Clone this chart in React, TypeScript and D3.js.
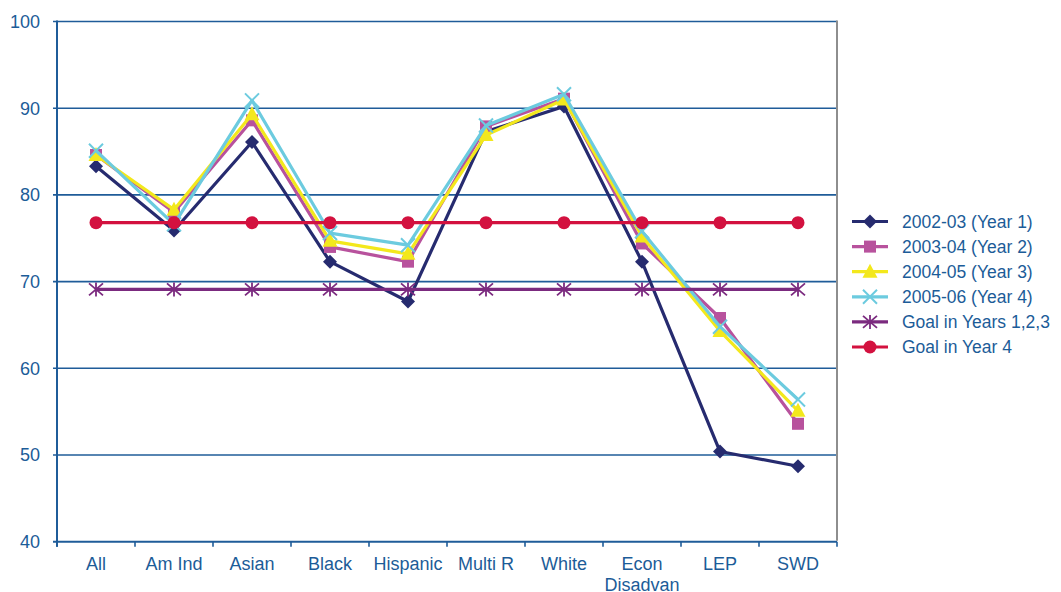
import React, { useEffect, useRef } from "react";
import * as d3 from "d3";

// Student groups along the x axis
const categories: string[][] = [
  ["All"], ["Am Ind"], ["Asian"], ["Black"], ["Hispanic"], ["Multi R"],
  ["White"], ["Econ", "Disadvan"], ["LEP"], ["SWD"],
];

// Percent proficient by year
const year1 = [83.3, 75.9, 86.1, 72.3, 67.7, 87.3, 90.2, 72.3, 50.4, 48.7];
const year2 = [84.6, 78.0, 88.6, 74.0, 72.3, 87.9, 91.1, 74.4, 65.8, 53.6];
const year3 = [84.6, 78.3, 89.3, 74.7, 73.2, 86.9, 91.0, 75.2, 64.3, 55.1];
const year4 = [85.1, 76.6, 90.9, 75.6, 74.2, 88.0, 91.6, 75.8, 64.8, 56.4];
const goalYears123 = [69.1, 69.1, 69.1, 69.1, 69.1, 69.1, 69.1, 69.1, 69.1, 69.1];
const goalYear4 = [76.8, 76.8, 76.8, 76.8, 76.8, 76.8, 76.8, 76.8, 76.8, 76.8];

const yTicks = [40, 50, 60, 70, 80, 90, 100];

type Marker = "diamond" | "square" | "triangle" | "x" | "asterisk" | "circle";
interface Series { name: string; values: number[]; color: string; marker: Marker; }

const series: Series[] = [
  { name: "2002-03 (Year 1)", values: year1, color: "#262b6f", marker: "diamond" },
  { name: "2003-04 (Year 2)", values: year2, color: "#b8529d", marker: "square" },
  { name: "2004-05 (Year 3)", values: year3, color: "#f3e81c", marker: "triangle" },
  { name: "2005-06 (Year 4)", values: year4, color: "#6ccbdf", marker: "x" },
  { name: "Goal in Years 1,2,3", values: goalYears123, color: "#7b2a7f", marker: "asterisk" },
  { name: "Goal in Year 4", values: goalYear4, color: "#d3113f", marker: "circle" },
];

const W = 1061, H = 592;
const M = { left: 57, right: 837, top: 21.5, bottom: 541.7 };
const AXIS = "#1f5c99";
const TEXT = "#1c5c98";
const FONT = "'Liberation Sans', Arial, sans-serif";

function drawMarker(g: d3.Selection<SVGGElement, unknown, null, undefined>, m: Marker, x: number, y: number, color: string) {
  switch (m) {
    case "diamond":
      g.append("path").attr("d", `M${x},${y - 7}L${x + 7},${y}L${x},${y + 7}L${x - 7},${y}Z`).attr("fill", color);
      break;
    case "square":
      g.append("rect").attr("x", x - 6).attr("y", y - 6).attr("width", 12).attr("height", 12).attr("fill", color);
      break;
    case "triangle":
      g.append("path").attr("d", `M${x},${y - 8}L${x + 7.5},${y + 6}L${x - 7.5},${y + 6}Z`).attr("fill", color);
      break;
    case "x":
      g.append("path").attr("d", `M${x - 7},${y - 7}L${x + 7},${y + 7}M${x + 7},${y - 7}L${x - 7},${y + 7}`)
        .attr("stroke", color).attr("stroke-width", 2).attr("fill", "none");
      break;
    case "asterisk":
      g.append("path").attr("d", `M${x - 7},${y - 6}L${x + 7},${y + 6}M${x + 7},${y - 6}L${x - 7},${y + 6}M${x},${y - 7}L${x},${y + 7}`)
        .attr("stroke", color).attr("stroke-width", 1.8).attr("fill", "none");
      break;
    case "circle":
      g.append("circle").attr("cx", x).attr("cy", y).attr("r", 6.5).attr("fill", color);
      break;
  }
}

export default function App() {
  const ref = useRef<SVGSVGElement>(null);

  useEffect(() => {
    const svg = d3.select(ref.current!);
    svg.selectAll("*").remove();

    const x = d3.scaleBand<number>().domain(d3.range(categories.length)).range([M.left, M.right]);
    const y = d3.scaleLinear().domain([40, 100]).range([M.bottom, M.top]);
    const cx = (i: number) => (x(i) as number) + x.bandwidth() / 2;

    // Horizontal gridlines and y labels
    const grid = svg.append("g");
    yTicks.forEach((t) => {
      grid.append("line").attr("x1", M.left - 4).attr("x2", M.right)
        .attr("y1", y(t)).attr("y2", y(t)).attr("stroke", AXIS).attr("stroke-width", t === 40 ? 2 : 1.6);
      grid.append("text").attr("x", 40).attr("y", y(t)).attr("dy", "0.35em")
        .attr("text-anchor", "end").attr("font-family", FONT).attr("font-size", 18).attr("fill", TEXT).text(String(t));
    });

    // Right frame edge
    svg.append("line").attr("x1", M.right).attr("x2", M.right).attr("y1", M.top - 1).attr("y2", M.bottom - 1)
      .attr("stroke", "#8e8e8e").attr("stroke-width", 2);

    // Y axis
    svg.append("line").attr("x1", M.left).attr("x2", M.left).attr("y1", M.top - 1).attr("y2", M.bottom + 5)
      .attr("stroke", AXIS).attr("stroke-width", 2);

    // X axis ticks at band edges and category labels
    for (let i = 0; i <= categories.length; i++) {
      const bx = M.left + i * x.step();
      svg.append("line").attr("x1", bx).attr("x2", bx).attr("y1", M.bottom).attr("y2", M.bottom + 5)
        .attr("stroke", AXIS).attr("stroke-width", 1.6);
    }
    categories.forEach((lines, i) => {
      const t = svg.append("text").attr("x", cx(i)).attr("y", 570).attr("text-anchor", "middle")
        .attr("font-family", FONT).attr("font-size", 18).attr("fill", TEXT);
      lines.forEach((l, k) => t.append("tspan").attr("x", cx(i)).attr("dy", k === 0 ? 0 : 21).text(l));
    });

    // Series lines and markers
    const line = d3.line<number>().x((_, i) => cx(i)).y((v) => y(v));
    series.forEach((s) => {
      const g = svg.append("g");
      g.append("path").attr("d", line(s.values)!).attr("fill", "none")
        .attr("stroke", s.color).attr("stroke-width", 3.2).attr("stroke-linejoin", "round");
      s.values.forEach((v, i) => drawMarker(g, s.marker, cx(i), y(v), s.color));
    });

    // Legend
    const lg = svg.append("g");
    series.forEach((s, k) => {
      const ly = 221.5 + k * 25.1;
      const g = lg.append("g");
      g.append("line").attr("x1", 852).attr("x2", 888).attr("y1", ly).attr("y2", ly)
        .attr("stroke", s.color).attr("stroke-width", 3.2);
      drawMarker(g, s.marker, 870, ly, s.color);
      g.append("text").attr("x", 902).attr("y", ly).attr("dy", "0.36em")
        .attr("font-family", FONT).attr("font-size", 17.5).attr("fill", TEXT).text(s.name);
    });
  }, []);

  return (
    <svg ref={ref} width={W} height={H}
      style={{ position: "absolute", left: 0, top: 0, background: "#fff" }} />
  );
}
